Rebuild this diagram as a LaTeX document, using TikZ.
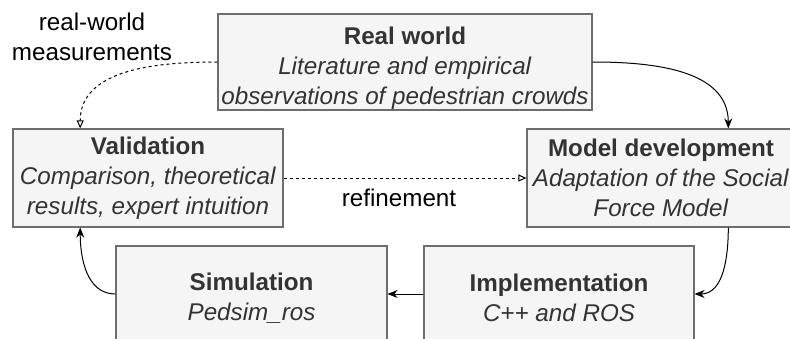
\documentclass[tikz,border=0pt]{standalone}
\usepackage{fontspec}
\setmainfont{Liberation Sans}
\usetikzlibrary{arrows.meta,calc}
\definecolor{boxfill}{RGB}{245,245,245}
\definecolor{boxline}{RGB}{110,110,110}
\definecolor{boxtext}{RGB}{51,51,51}
\newcommand{\bigfont}{\fontsize{24.2}{30}\selectfont}
\newcommand{\lift}[1]{\rule{0pt}{#1}}
\tikzset{
  stage/.style={draw=boxline, fill=boxfill, line width=1.2pt, text=boxtext,
    align=center, font=\bigfont, inner sep=0pt, minimum height=96pt},
  flow/.style={line width=1pt, -{Stealth[length=10pt,width=8pt]}},
  feedback/.style={line width=1pt, dash pattern=on 3pt off 3pt,
    -{Triangle[open,length=8pt,width=7pt]}},
  note/.style={align=center, font=\bigfont}
}
\begin{document}
\begin{tikzpicture}[x=1pt,y=1pt]
\useasboundingbox (0,0) rectangle (790,338);
% stages of the cycle
\node[stage, minimum width=374pt] (real) at (405,276)
  {\lift{30.5pt}\textbf{Real world}\\\textit{Literature and empirical}\\\textit{observations of pedestrian crowds}};
\node[stage, minimum width=270pt, minimum height=98pt] (valid) at (148,160)
  {\textbf{Validation}\\\textit{Comparison, theoretical}\\\textit{results, expert intuition}};
\node[stage, minimum width=268pt, minimum height=98pt] (model) at (661,160)
  {\textbf{Model development}\\\textit{Adaptation of the Social}\\\textit{Force Model}};
\node[stage, minimum width=271pt] (sim) at (251.5,44)
  {\lift{25pt}\textbf{Simulation}\\\textit{Pedsim\_ros}};
\node[stage, minimum width=270pt] (impl) at (559,44)
  {\lift{25pt}\textbf{Implementation}\\\textit{C++ and ROS}};
% labels
\node[note] (meas) at (92,301) {real-world\\measurements};
\node[note] (refine) at (399,140) {refinement};
% connectors
\draw[flow] (real.east) to[out=0,in=90] ($(model.north west)!0.75!(model.north east)$);
\draw[flow] ($(model.south west)!0.75!(model.south east)$) to[out=-90,in=0] (impl.east);
\draw[flow] (impl.west) -- (sim.east);
\draw[flow] (sim.west) to[out=180,in=-90] ($(valid.south west)!0.25!(valid.south east)$);
\draw[feedback] (real.west) to[out=180,in=90] ($(valid.north west)!0.25!(valid.north east)$);
\draw[feedback] (valid.east) -- (model.west);
\end{tikzpicture}
\end{document}
